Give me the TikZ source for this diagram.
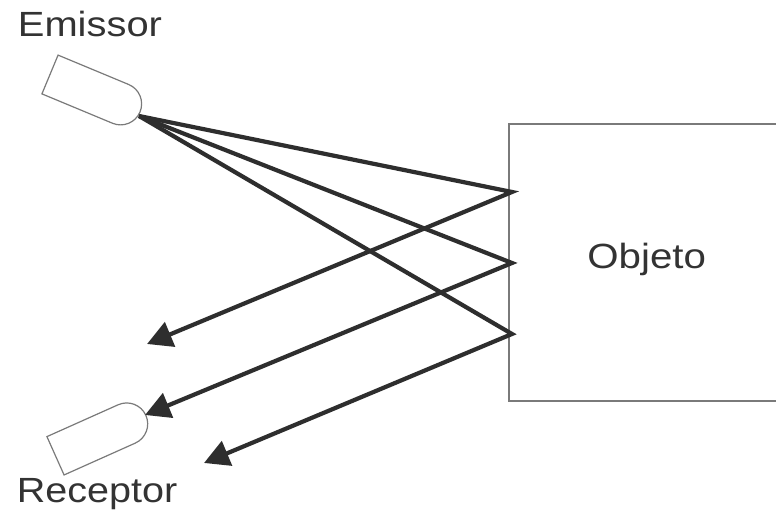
\documentclass[tikz,border=0pt]{standalone}
\usepackage{fontspec}
\usepackage{graphicx}
\setmainfont{Liberation Sans}
\usetikzlibrary{arrows.meta}
\definecolor{ink}{HTML}{2E2E2E}
\definecolor{edge}{HTML}{7A7A7A}
\definecolor{txt}{HTML}{333333}
\tikzset{
  ray/.style={draw=ink, line width=4.2pt, line join=miter, -{Triangle[length=25pt,width=26pt]}},
  probe/.style={draw=edge, line width=1.2pt, fill=white},
  lbl/.style={inner sep=0pt, text=txt, font=\fontsize{35}{40}\selectfont},
}
\begin{document}
\begin{tikzpicture}[x=1pt,y=1pt]
\useasboundingbox (0,0) rectangle (776,518);
\clip (0,0) rectangle (776,518);
\fill[white] (0,0) rectangle (776,518);
% object box
\draw[edge, line width=1.2pt] (776,394) -- (509,394) -- (509,117) -- (776,117);
\node[lbl, anchor=base] (obj) at (646.7,249.7) {\scalebox{1.15}[1]{Objeto}};
% emitter
\begin{scope}[shift={(50,443.5)}, rotate=-22.6]
  \draw[probe] (0,21) -- (76.5,21) arc[start angle=90, end angle=-90, radius=21] -- (0,-21) -- cycle;
\end{scope}
% receptor
\begin{scope}[shift={(55.5,62.2)}, rotate=24.1]
  \draw[probe] (0,21) -- (78,21) arc[start angle=90, end angle=-90, radius=21] -- (0,-21) -- cycle;
\end{scope}
\node[lbl, anchor=base west] (emissor) at (17.7,481.3) {\scalebox{1.14}[1]{Emissor}};
\node[lbl, anchor=base west] (receptor) at (16.7,15.7) {\scalebox{1.13}[1]{Receptor}};
% coordinates
\coordinate (src) at (139,402);
\coordinate (p1) at (512,326);
\coordinate (p2) at (512,255);
\coordinate (p3) at (512,184);
\coordinate (a1) at (147,174);
\coordinate (a2) at (145,103);
\coordinate (a3) at (204,55);
\draw[ray] (src) -- (p1) -- (a1);
\draw[ray] (src) -- (p2) -- (a2);
\draw[ray] (src) -- (p3) -- (a3);
\end{tikzpicture}
\end{document}
